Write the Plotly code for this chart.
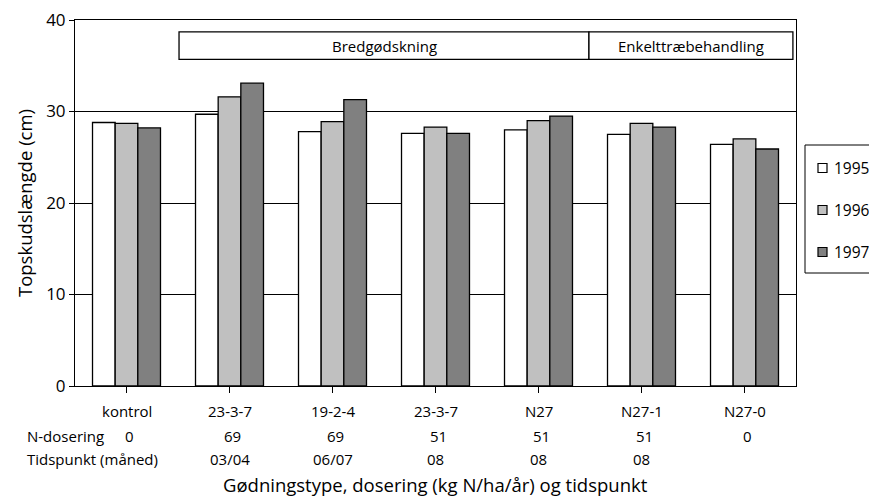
import plotly.graph_objects as go

# Fertiliser treatments (categories) and top-shoot length per year (cm)
categories = ["kontrol", "23-3-7", "19-2-4", "23-3-7", "N27", "N27-1", "N27-0"]
n_dose = ["0", "69", "69", "51", "51", "51", "0"]
timing = ["", "03/04", "06/07", "08", "08", "08", ""]

years = ["1995", "1996", "1997"]
values_1995 = [28.8, 29.7, 27.8, 27.6, 28.0, 27.5, 26.4]
values_1996 = [28.7, 31.6, 28.9, 28.3, 29.0, 28.7, 27.0]
values_1997 = [28.2, 33.1, 31.3, 27.6, 29.5, 28.3, 25.9]
year_colors = ["#ffffff", "#c0c0c0", "#808080"]

FONT = "Open Sans"
PLOT_L, PLOT_R, PLOT_T, PLOT_B = 75, 796, 20, 386
W, H = 869, 497
PH = PLOT_B - PLOT_T
PW = PLOT_R - PLOT_L


def py(pixel_y):
    """Paper y coordinate for a pixel row of the page."""
    return (PLOT_B - pixel_y) / PH


def px(pixel_x):
    """Paper x coordinate for a pixel column of the page."""
    return (pixel_x - PLOT_L) / PW


fig = go.Figure()
for yr, vals, col in zip(years, [values_1995, values_1996, values_1997], year_colors):
    fig.add_trace(go.Bar(
        x=list(range(len(categories))), y=vals, name=yr, showlegend=False,
        marker=dict(color=col, line=dict(color="black", width=1.3)),
    ))

# Category label rows under the axis
label_font = dict(family=FONT, size=15, color="black")
for i, (c, d, t) in enumerate(zip(categories, n_dose, timing)):
    fig.add_annotation(x=i, y=py(411), xref="x", yref="paper", text=c,
                       showarrow=False, font=label_font, yanchor="middle")
    fig.add_annotation(x=i + 0.03, y=py(436), xref="x", yref="paper", text=d,
                       showarrow=False, font=label_font, yanchor="middle")
    if t:
        fig.add_annotation(x=i, y=py(459), xref="x", yref="paper", text=t,
                           showarrow=False, font=label_font, yanchor="middle")

# row headers
fig.add_annotation(x=px(25), y=py(436), xref="paper", yref="paper", text="N-dosering",
                   showarrow=False, font=label_font, xanchor="left", yanchor="middle")
fig.add_annotation(x=px(25), y=py(459), xref="paper", yref="paper", text="Tidspunkt (måned)",
                   showarrow=False, font=label_font, xanchor="left", yanchor="middle")

# Treatment group boxes
for x0, x1, label in [(0.51, 4.49, "Bredgødskning"), (4.49, 6.47, "Enkelttræbehandling")]:
    fig.add_shape(type="rect", x0=x0, x1=x1, y0=35.7, y1=38.7, xref="x", yref="y",
                  line=dict(color="black", width=1.3), fillcolor="white")
    fig.add_annotation(x=(x0 + x1) / 2, y=37.2, xref="x", yref="y", text=label,
                       showarrow=False, font=label_font)

fig.add_annotation(x=0.5, y=py(484), xref="paper", yref="paper",
                   text="Gødningstype, dosering (kg N/ha/år) og tidspunkt",
                   showarrow=False, font=dict(family=FONT, size=18.5), yanchor="middle")

# Year legend box at the right edge
fig.add_shape(type="rect", x0=px(805), x1=px(884), y0=py(145), y1=py(273),
              xref="paper", yref="paper", line=dict(color="black", width=1),
              fillcolor="white", layer="above")
for k, (yr, col) in enumerate(zip(years, year_colors)):
    cy = 168 + 42 * k
    fig.add_shape(type="rect", x0=px(818), x1=px(827), y0=py(cy - 4.5), y1=py(cy + 4.5),
                  xref="paper", yref="paper", line=dict(color="black", width=1.2),
                  fillcolor=col, layer="above")
    fig.add_annotation(x=px(832), y=py(cy), xref="paper", yref="paper", text=yr,
                       showarrow=False, xanchor="left", yanchor="middle",
                       font=dict(family=FONT, size=15.5))

fig.update_layout(
    width=W, height=H,
    margin=dict(l=PLOT_L, r=W - PLOT_R, t=PLOT_T, b=H - PLOT_B, pad=0, autoexpand=False),
    paper_bgcolor="white", plot_bgcolor="white",
    barmode="group", bargap=0.34, bargroupgap=0,
    font=dict(family=FONT, size=15, color="black"),
    showlegend=False,
    xaxis=dict(range=[-0.5, 6.5], tickmode="array", tickvals=list(range(len(categories))),
               showticklabels=False, ticks="outside", tickson="boundaries", ticklen=6,
               tickcolor="black", showline=True, linecolor="black", linewidth=1,
               mirror=True, showgrid=False, zeroline=False),
    yaxis=dict(range=[0, 40], dtick=10, ticks="outside", ticklen=5, tickcolor="black",
               showline=True, linecolor="black", linewidth=1, mirror=True,
               showgrid=True, gridcolor="black", gridwidth=1, zeroline=False,
               tickfont=dict(family=FONT, size=17),
               title=dict(text="Topskudslængde (cm)", font=dict(family=FONT, size=18.5),
                          standoff=8)),
)

fig.write_html("out.html")
